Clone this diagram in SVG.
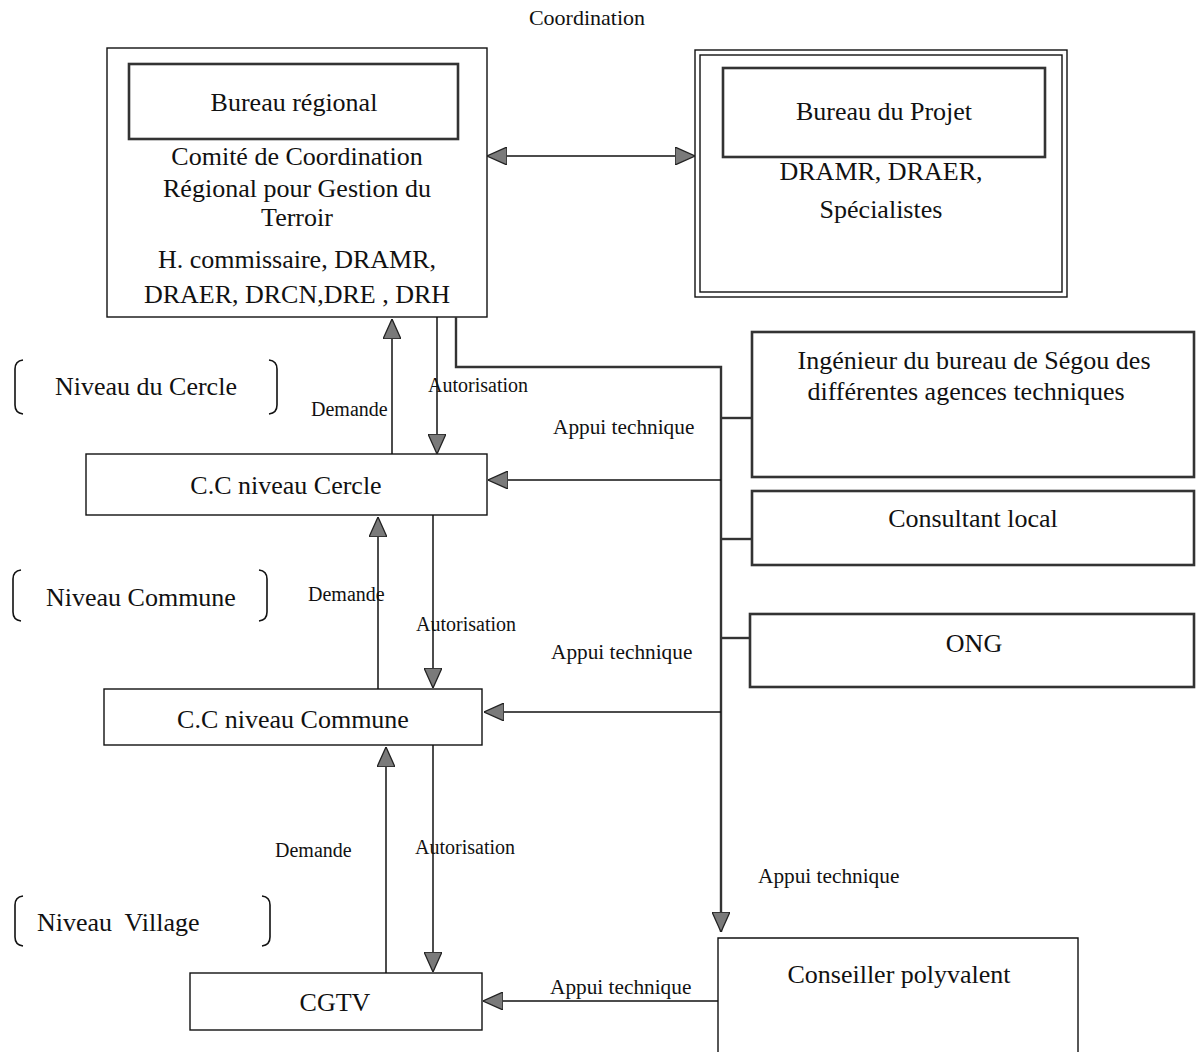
<svg xmlns="http://www.w3.org/2000/svg" width="1196" height="1052" viewBox="0 0 1196 1052">
<defs>
<style>
text{font-family:"Liberation Serif","Times New Roman",serif;fill:#111}
.t{font-size:26px;text-anchor:middle}
.lv{font-size:26px}
.lb{font-size:20px}
.ap{font-size:21.3px}
.co{font-size:22px;text-anchor:middle}
.box{fill:#fff;stroke:#111;stroke-width:1.4}
.gbox{fill:#fff;stroke:#333;stroke-width:2.6}
.ln{fill:none;stroke:#111;stroke-width:1.5}
.gln{fill:none;stroke:#333;stroke-width:2.4}
.br{fill:none;stroke:#111;stroke-width:1.6}
</style>
<marker id="ah" viewBox="0 0 20 18" refX="20" refY="9" markerWidth="20" markerHeight="18" markerUnits="userSpaceOnUse" orient="auto-start-reverse">
<path d="M0,0 L20,9 L0,18 Z" fill="#7a7a7a" stroke="#222" stroke-width="1.3"/>
</marker>
</defs>
<rect width="1196" height="1052" fill="#fff"/>

<text class="co" x="587" y="25">Coordination</text>

<g id="comite-regional">
<rect class="box" x="107" y="48" width="380" height="269"/>
<rect class="gbox" x="129" y="64" width="329" height="75"/>
<text class="t" x="294" y="111">Bureau régional</text>
<text class="t" x="297" y="165">Comité de Coordination</text>
<text class="t" x="297" y="197">Régional pour Gestion du</text>
<text class="t" x="297" y="226">Terroir</text>
<text class="t" x="297" y="268">H. commissaire, DRAMR,</text>
<text class="t" x="297" y="303">DRAER, DRCN,DRE , DRH</text>
</g>

<g id="bureau-projet">
<rect class="box" x="695" y="50" width="372" height="247" stroke-width="2"/>
<rect class="box" x="700" y="55" width="362" height="237"/>
<rect class="gbox" x="723" y="68" width="322" height="89"/>
<text class="t" x="884" y="120">Bureau du Projet</text>
<text class="t" x="881" y="180">DRAMR, DRAER,</text>
<text class="t" x="881" y="218">Spécialistes</text>
</g>

<g id="niveau-cercle">
<path class="br" d="M23,360 Q15,361 15,369 L15,405 Q15,413 23,414"/>
<path class="br" d="M269,360 Q277,361 277,369 L277,405 Q277,413 269,414"/>
<text class="lv" x="55" y="395">Niveau du Cercle</text>
</g>

<g id="niveau-commune">
<path class="br" d="M21,570 Q13,571 13,579 L13,612 Q13,620 21,621"/>
<path class="br" d="M259,570 Q267,571 267,579 L267,612 Q267,620 259,621"/>
<text class="lv" x="46" y="606">Niveau Commune</text>
</g>

<g id="niveau-village">
<path class="br" d="M23,896 Q15,897 15,905 L15,937 Q15,945 23,946"/>
<path class="br" d="M262,896 Q270,897 270,905 L270,937 Q270,945 262,946"/>
<text class="lv" x="37" y="931" xml:space="preserve">Niveau  Village</text>
</g>

<g id="cc-cercle">
<rect class="box" x="86" y="454" width="401" height="61"/>
<text class="t" x="286" y="494">C.C niveau Cercle</text>
</g>

<g id="cc-commune">
<rect class="box" x="104" y="689" width="378" height="56"/>
<text class="t" x="293" y="728">C.C niveau Commune</text>
</g>

<g id="cgtv">
<rect class="box" x="190" y="973" width="292" height="57"/>
<text class="t" x="335" y="1011">CGTV</text>
</g>

<g id="ingenieur">
<rect class="gbox" x="752" y="332" width="442" height="145"/>
<text class="t" x="974" y="369">Ingénieur du bureau de Ségou des</text>
<text class="t" x="966" y="400">différentes agences techniques</text>
</g>

<g id="consultant">
<rect class="gbox" x="752" y="491" width="442" height="74"/>
<text class="t" x="973" y="527">Consultant local</text>
</g>

<g id="ong">
<rect class="gbox" x="750" y="614" width="444" height="73"/>
<text class="t" x="974" y="652">ONG</text>
</g>

<g id="conseiller">
<path class="box" d="M718,1052 L718,938 L1078,938 L1078,1052"/>
<text class="t" x="899" y="983">Conseiller polyvalent</text>
</g>

<g id="connectors">
<line class="ln" x1="487" y1="156" x2="695" y2="156" marker-start="url(#ah)" marker-end="url(#ah)"/>

<line class="ln" x1="392" y1="454" x2="392" y2="319" marker-end="url(#ah)"/>
<line class="ln" x1="437" y1="317" x2="437" y2="454" marker-end="url(#ah)"/>
<line class="ln" x1="378" y1="689" x2="378" y2="517" marker-end="url(#ah)"/>
<line class="ln" x1="433" y1="515" x2="433" y2="688" marker-end="url(#ah)"/>
<line class="ln" x1="386" y1="973" x2="386" y2="747" marker-end="url(#ah)"/>
<line class="ln" x1="433" y1="745" x2="433" y2="972" marker-end="url(#ah)"/>

<path class="gln" d="M456,317 L456,367 L721,367 L721,932" marker-end="url(#ah)"/>
<line class="gln" x1="721" y1="418" x2="752" y2="418"/>
<line class="gln" x1="721" y1="539" x2="752" y2="539"/>
<line class="gln" x1="721" y1="638" x2="750" y2="638"/>
<line class="ln" x1="721" y1="480" x2="488" y2="480" marker-end="url(#ah)"/>
<line class="ln" x1="721" y1="712" x2="484" y2="712" marker-end="url(#ah)"/>
<line class="ln" x1="718" y1="1001" x2="483" y2="1001" marker-end="url(#ah)"/>

<text class="lb" x="311" y="416">Demande</text>
<text class="lb" x="428" y="392">Autorisation</text>
<text class="lb" x="308" y="601">Demande</text>
<text class="lb" x="416" y="631">Autorisation</text>
<text class="lb" x="275" y="857">Demande</text>
<text class="lb" x="415" y="854">Autorisation</text>
<text class="ap" x="553" y="434">Appui technique</text>
<text class="ap" x="551" y="659">Appui technique</text>
<text class="ap" x="758" y="883">Appui technique</text>
<text class="ap" x="550" y="994">Appui technique</text>
</g>
</svg>
